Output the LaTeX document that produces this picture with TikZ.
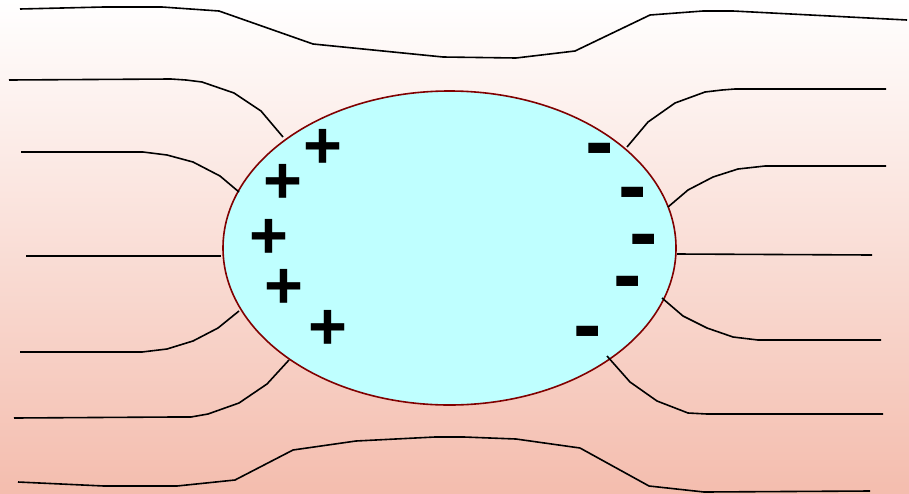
\documentclass[tikz,border=0pt]{standalone}
\usepackage{fontspec}
\setmainfont{Liberation Sans}
\definecolor{bgbot}{HTML}{F4BDAE}
\definecolor{bodyfill}{HTML}{BFFFFF}
\definecolor{rim}{HTML}{800000}
\tikzset{
  fieldline/.style={draw=black, line width=1.2pt, line join=round},
  chargeplus/.style={inner sep=0pt, font=\fontsize{50}{50}\selectfont\bfseries},
  chargeminus/.style={inner sep=0pt, font=\fontsize{64}{64}\selectfont\bfseries},
}
\begin{document}
\begin{tikzpicture}[x=0.75pt,y=-0.75pt]
\useasboundingbox (0,0) rectangle (909,493);
\shade[top color=white, bottom color=bgbot] (0,0) rectangle (909,493);
% body
\draw[fill=bodyfill, draw=rim, line width=1.2pt] (449.5,248) ellipse [x radius=226.5, y radius=157];
\coordinate (body) at (449.5,248);
% field lines
\draw[fieldline] (20,9) -- (104,7) -- (162,7) -- (219,11) -- (313,44) -- (443,57) -- (516,58) -- (575,51) -- (650,15) -- (703,11) -- (733,11) -- (907,20);
\draw[fieldline] (9,80) -- (171,79) -- (186,80) -- (202,82) -- (234,93) -- (261,111) -- (283,137);
\draw[fieldline] (21,152) -- (143,152) -- (167,155) -- (193,162) -- (220,176) -- (239,192);
\draw[fieldline] (26,256) -- (221,256);
\draw[fieldline] (20,352) -- (142,352) -- (167,349) -- (193,341) -- (218,328) -- (239,311);
\draw[fieldline] (14,418) -- (174,417) -- (191,417) -- (208,414) -- (239,403) -- (267,384) -- (289,360);
\draw[fieldline] (18,482) -- (104,486) -- (177,486) -- (235,480) -- (293,450) -- (356,441) -- (435,437) -- (464,437) -- (516,439) -- (580,448) -- (649,486) -- (704,492) -- (870,491);
\draw[fieldline] (886,89) -- (735,89) -- (722,90) -- (705,92) -- (675,103) -- (648,122) -- (627,147);
\draw[fieldline] (886,166) -- (765,166) -- (738,169) -- (713,177) -- (688,190) -- (668,207);
\draw[fieldline] (872,255) -- (677,254);
\draw[fieldline] (662,298) -- (683,316) -- (707,328) -- (733,337) -- (758,340) -- (881,340);
\draw[fieldline] (607,356) -- (630,382) -- (657,401) -- (688,413) -- (707,414) -- (883,414);
% charges
\node[chargeplus] (p1) at (323,149) {+};
\node[chargeplus] (p2) at (283,184) {+};
\node[chargeplus] (p3) at (269,239) {+};
\node[chargeplus] (p4) at (284,289) {+};
\node[chargeplus] (p5) at (328,330) {+};
\node[chargeminus] (m1) at (600,157) {-};
\node[chargeminus] (m2) at (633,201) {-};
\node[chargeminus] (m3) at (644,248) {-};
\node[chargeminus] (m4) at (628,290) {-};
\node[chargeminus] (m5) at (588,340) {-};
\end{tikzpicture}
\end{document}
